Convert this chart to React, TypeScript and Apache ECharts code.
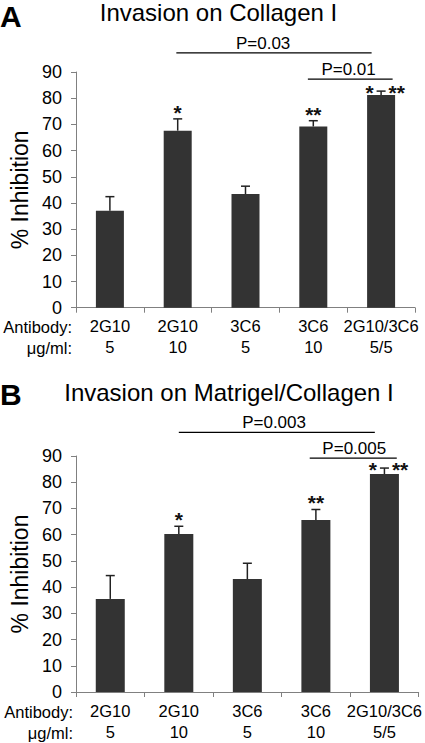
import React, { useEffect, useRef } from "react";
import * as echarts from "echarts";

// ---- data ----
const antibodies = ["2G10", "2G10", "3C6", "3C6", "2G10/3C6"];
const doses = ["5", "10", "5", "10", "5/5"];
const rowLabels = ["Antibody:", "\u03bcg/ml:"];
const yMin = 0;
const yMax = 90;
const yStep = 10;

const titleA = "Invasion on Collagen I";
const meanA = [37.0, 67.6, 43.4, 69.2, 81.2];
const errA = [5.4, 4.5, 3.0, 2.2, 1.5];
const starsTopA = ["", "*", "", "**", ""];
const starsLeftA = ["", "", "", "", "*"];
const starsRightA = ["", "", "", "", "**"];
const pLabelA = ["P=0.03", "P=0.01"];
const pFromA = [0.98, 2.92];
const pToA = [3.86, 4.17];
const pLevelA = [97.3, 87.3];
const pTextAtA = [2.26, 3.52];

const titleB = "Invasion on Matrigel/Collagen I";
const meanB = [35.5, 60.3, 43.1, 65.6, 83.1];
const errB = [8.9, 2.9, 6.0, 4.0, 2.3];
const starsTopB = ["", "*", "", "**", ""];
const starsLeftB = ["", "", "", "", "*"];
const starsRightB = ["", "", "", "", "**"];
const pLabelB = ["P=0.003", "P=0.005"];
const pFromB = [1.0, 2.91];
const pToB = [3.86, 4.18];
const pLevelB = [99.0, 89.2];
const pTextAtB = [2.39, 3.56];

const FONT = "'Liberation Sans', Arial, Helvetica, sans-serif";
const AXIS_GRAY = "#808080";
const BAR = "#333333";

const gridA = { left: 70, top: 72, width: 345, height: 235.7 };
const gridB = { left: 71, top: 456, width: 347.7, height: 236 };

function errorSeries(idx: number, mean: number[], err: number[], top: string[], left: string[], right: string[]) {
  return {
    type: "custom",
    xAxisIndex: idx,
    yAxisIndex: idx,
    z: 5,
    data: mean.map((m, i) => [i, m, err[i]]),
    renderItem: (params: any, api: any) => {
      const i = params.dataIndex;
      const x = api.value(0);
      const m = api.value(1);
      const e = api.value(2);
      const base = api.coord([x, m]);
      const tp = api.coord([x, m + e]);
      const half = 4.5;
      const children: any[] = [
        { type: "line", shape: { x1: base[0], y1: base[1], x2: tp[0], y2: tp[1] }, style: { stroke: "#222", lineWidth: 1.5 } },
        { type: "line", shape: { x1: tp[0] - half, y1: tp[1], x2: tp[0] + half, y2: tp[1] }, style: { stroke: "#222", lineWidth: 1.5 } },
      ];
      const ts = { fontSize: 21, fontWeight: "bold", fontFamily: FONT, fill: "#111" };
      if (top[i]) children.push({ type: "text", x: tp[0], y: tp[1] - 6.5, style: { ...ts, text: top[i], align: "center", verticalAlign: "middle" } });
      if (left[i]) children.push({ type: "text", x: tp[0] - 7.5, y: tp[1] + 1.5, style: { ...ts, text: left[i], align: "right", verticalAlign: "middle" } });
      if (right[i]) children.push({ type: "text", x: tp[0] + 7.5, y: tp[1] + 1.5, style: { ...ts, text: right[i], align: "left", verticalAlign: "middle" } });
      return { type: "group", children };
    },
  };
}

function bracketSeries(idx: number, labels: string[], from: number[], to: number[], level: number[], textAt: number[]) {
  return {
    type: "custom",
    xAxisIndex: idx,
    yAxisIndex: idx,
    z: 6,
    clip: false,
    data: labels.map((_, i) => [from[i], level[i]]),
    renderItem: (params: any, api: any) => {
      const i = params.dataIndex;
      const p0 = api.coord([0, level[i]]);
      const p1 = api.coord([1, level[i]]);
      const bw = p1[0] - p0[0];
      const xAt = (f: number) => p0[0] + f * bw;
      return {
        type: "group",
        children: [
          { type: "line", shape: { x1: xAt(from[i]), y1: p0[1], x2: xAt(to[i]), y2: p0[1] }, style: { stroke: "#000", lineWidth: 1.3 } },
          {
            type: "text",
            x: xAt(textAt[i]),
            y: p0[1] - 1,
            style: { text: labels[i], fontSize: 17, fontFamily: FONT, fill: "#000", align: "center", verticalAlign: "bottom" },
          },
        ],
      };
    },
  };
}

function xAxisFor(idx: number) {
  return {
    type: "category",
    gridIndex: idx,
    data: antibodies.map((a, i) => `${a}\n${doses[i]}`),
    axisLine: { show: true, lineStyle: { color: AXIS_GRAY, width: 1 } },
    axisTick: { show: true, length: 5, alignWithLabel: false, interval: 0, lineStyle: { color: AXIS_GRAY } },
    axisLabel: { interval: 0, margin: 8, fontSize: 16.5, lineHeight: 21, color: "#000", fontFamily: FONT },
    splitLine: { show: false },
  };
}

function yAxisFor(idx: number) {
  return {
    type: "value",
    gridIndex: idx,
    min: yMin,
    max: yMax,
    interval: yStep,
    name: "% Inhibition",
    nameLocation: "middle",
    nameGap: 45,
    nameTextStyle: { fontSize: 23, color: "#000", fontFamily: FONT },
    axisLine: { show: true, lineStyle: { color: AXIS_GRAY, width: 1 } },
    axisTick: { show: true, length: 5, lineStyle: { color: AXIS_GRAY } },
    axisLabel: { margin: 14, fontSize: 18, color: "#000", fontFamily: FONT },
    splitLine: { show: false },
  };
}

function rowText(g: { left: number; top: number; height: number }) {
  const axisY = g.top + g.height;
  return rowLabels.map((t, r) => ({
    type: "text",
    x: g.left + 2,
    y: axisY + 19.5 + r * 21,
    style: { text: t, fontSize: 16.5, fontFamily: FONT, fill: "#000", align: "right", verticalAlign: "middle" },
  }));
}

export default function App() {
  const ref = useRef<HTMLDivElement>(null);
  useEffect(() => {
    if (!ref.current) return;
    const chart = echarts.init(ref.current, undefined, { renderer: "svg" });
    chart.setOption({
      animation: false,
      backgroundColor: "#fff",
      textStyle: { fontFamily: FONT },
      grid: [
        { ...gridA, containLabel: false },
        { ...gridB, containLabel: false },
      ],
      xAxis: [xAxisFor(0), xAxisFor(1)],
      yAxis: [yAxisFor(0), yAxisFor(1)],
      series: [
        { type: "bar", xAxisIndex: 0, yAxisIndex: 0, data: meanA, barWidth: 28, itemStyle: { color: BAR }, z: 2 },
        { type: "bar", xAxisIndex: 1, yAxisIndex: 1, data: meanB, barWidth: 29, itemStyle: { color: BAR }, z: 2 },
        errorSeries(0, meanA, errA, starsTopA, starsLeftA, starsRightA),
        errorSeries(1, meanB, errB, starsTopB, starsLeftB, starsRightB),
        bracketSeries(0, pLabelA, pFromA, pToA, pLevelA, pTextAtA),
        bracketSeries(1, pLabelB, pFromB, pToB, pLevelB, pTextAtB),
      ],
      graphic: [
        { type: "text", x: 0, y: 16, style: { text: "A", fontSize: 30, fontWeight: "bold", fontFamily: FONT, fill: "#000", align: "left", verticalAlign: "middle" } },
        { type: "text", x: 218.5, y: 12.5, style: { text: titleA, fontSize: 24, lineHeight: 24, fontFamily: FONT, fill: "#000", align: "center", verticalAlign: "middle" } },
        { type: "text", x: 0, y: 394, style: { text: "B", fontSize: 30, fontWeight: "bold", fontFamily: FONT, fill: "#000", align: "left", verticalAlign: "middle" } },
        { type: "text", x: 229, y: 392.5, style: { text: titleB, fontSize: 24, fontFamily: FONT, fill: "#000", align: "center", verticalAlign: "middle" } },
        ...rowText(gridA),
        ...rowText(gridB),
      ],
    });
    return () => chart.dispose();
  }, []);
  return <div ref={ref} style={{ position: "absolute", left: 0, top: 0, width: 425, height: 743 }} />;
}
